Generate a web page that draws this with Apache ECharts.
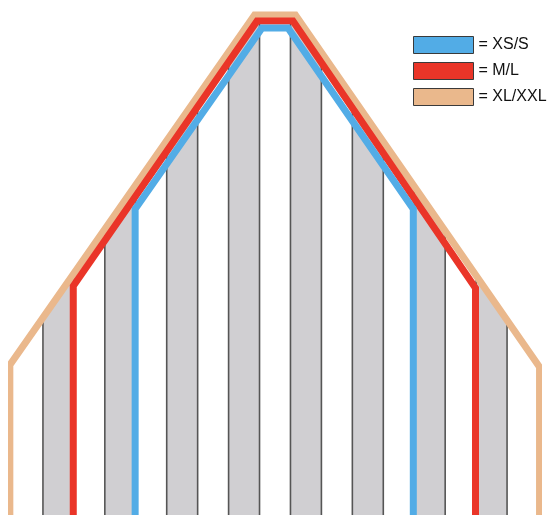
<!DOCTYPE html>
<html>
<head>
<meta charset="utf-8">
<script src="https://cdn.jsdelivr.net/npm/echarts@6/dist/echarts.min.js"></script>
<style>html,body{margin:0;padding:0;background:#fff}#c{width:551px;height:515px}</style>
</head>
<body>
<div id="c"></div>
<script>
// x in strip units (0..17 = strip edges), y in height units from the bottom
const sizeNames = ['= XS/S', '= M/L', '= XL/XXL'];
const sizeColors = ['#52ACE6', '#EA3528', '#EAB88C'];
const outlineXS_S = [[3.98, -10], [3.98, 306], [8.08, 487], [8.92, 487], [12.97, 306], [12.97, -10]];
const outlineM_L = [[1.98, -10], [1.98, 229], [7.92, 494], [9.08, 494], [14.98, 227], [14.98, -10]];
const outlineXL_XXL = [[-0.07, -10], [-0.07, 150], [7.84, 500], [9.16, 500], [17.05, 148], [17.05, -10]];
const grayStrips = [1, 3, 5, 7, 9, 11, 13, 15];
const stripEdges = [1, 2, 3, 4, 5, 6, 7, 8, 9, 10, 11, 12, 13, 14, 15, 16];

const chart = echarts.init(document.getElementById('c'), null, {renderer: 'canvas'});

function renderStrips(params, api) {
  const clipPts = outlineXL_XXL.map(p => api.coord(p));
  const children = [];
  grayStrips.forEach(k => {
    const a = api.coord([k, -10]);
    const b = api.coord([k + 1, 600]);
    children.push({type: 'rect', shape: {x: a[0], y: b[1], width: b[0] - a[0], height: a[1] - b[1]},
      style: {fill: '#D0CFD2'}});
  });
  stripEdges.forEach(k => {
    const a = api.coord([k, -10]);
    const b = api.coord([k, 600]);
    children.push({type: 'line', shape: {x1: a[0], y1: a[1], x2: b[0], y2: b[1]},
      style: {stroke: '#555555', lineWidth: 1.6}});
  });
  return {type: 'group', clipPath: {type: 'polygon', shape: {points: clipPts}}, children: children};
}

const outlines = [outlineXS_S, outlineM_L, outlineXL_XXL];

chart.setOption({
  animation: false,
  backgroundColor: '#ffffff',
  grid: {left: 12, right: 13, top: 0, bottom: 0},
  xAxis: {type: 'value', min: 0, max: 17, show: false},
  yAxis: {type: 'value', min: 0, max: 515, show: false},
  legend: {
    orient: 'vertical', left: 413, top: 36, padding: 0, itemGap: 8,
    itemWidth: 60, itemHeight: 17, icon: 'rect',
    itemStyle: {borderColor: '#3a3a3a', borderWidth: 1},
    textStyle: {fontSize: 16, color: '#111', fontFamily: 'Liberation Sans, Arial, sans-serif'},
    data: sizeNames
  },
  series: [
    {type: 'custom', renderItem: renderStrips, data: [[0, 0]], clip: false, z: 1, silent: true}
  ].concat(outlines.map((o, i) => ({
    type: 'line', name: sizeNames[i], data: o, symbol: 'none', z: 4 - i,
    color: sizeColors[i], itemStyle: {color: sizeColors[i]},
    lineStyle: {color: sizeColors[i], width: 7, join: 'miter'}
  })))
});
</script>
</body>
</html>
